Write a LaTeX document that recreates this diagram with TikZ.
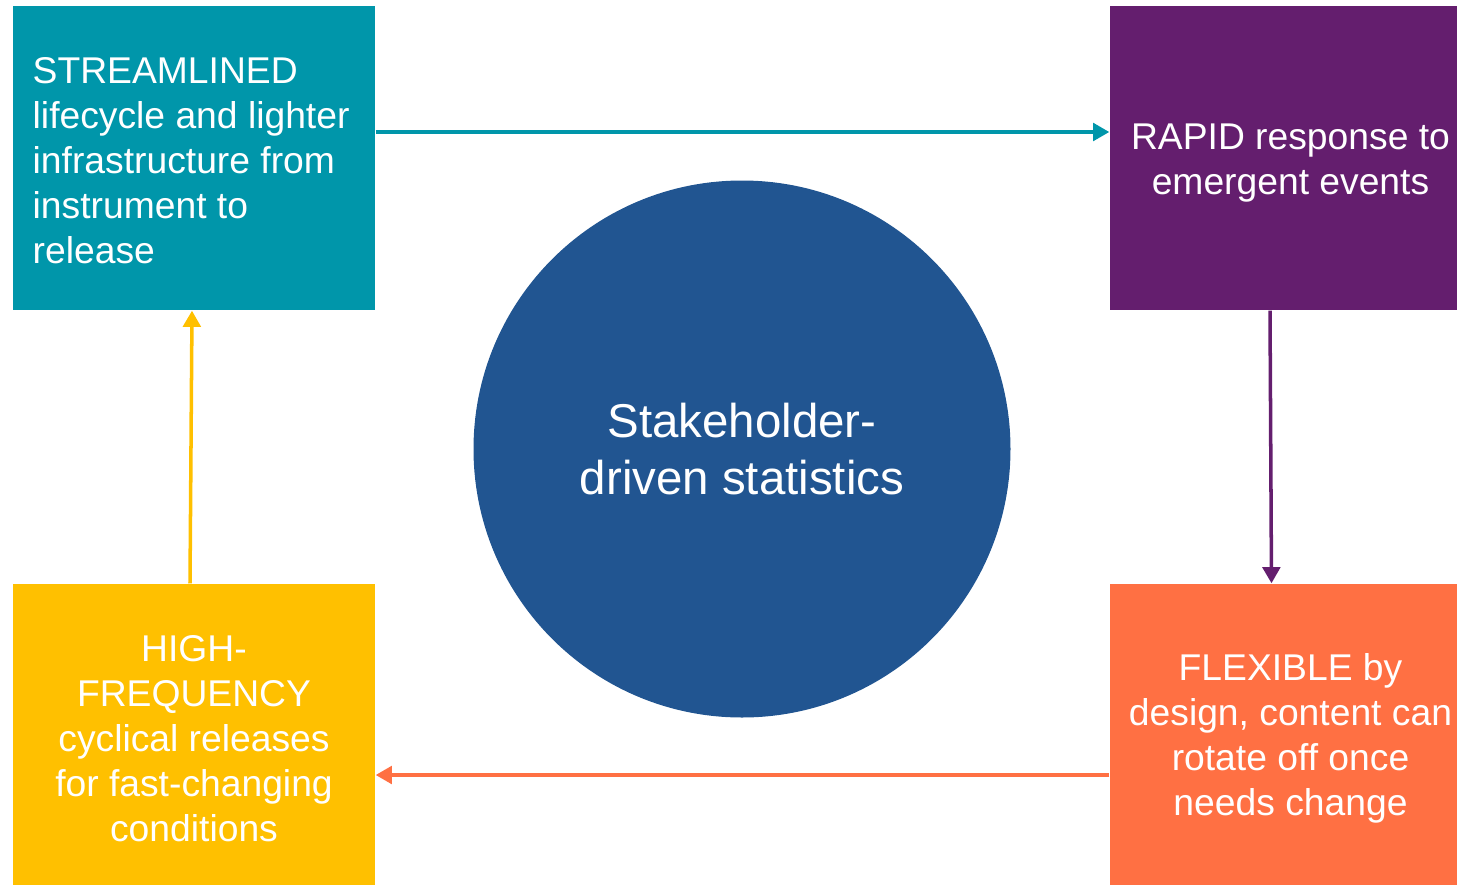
\documentclass[tikz,border=0pt]{standalone}
\usepackage{fontspec}
\setmainfont{Liberation Sans}
\usetikzlibrary{arrows.meta,positioning}
\definecolor{sd_teal}{RGB}{0, 150, 170}
\definecolor{sd_purple}{RGB}{100, 30, 110}
\definecolor{sd_orange}{RGB}{255, 112, 67}
\definecolor{sd_yellow}{RGB}{255, 192, 0}
\definecolor{sd_blue}{RGB}{33, 85, 145}
\tikzstyle{box}=[rectangle,text=white,inner sep=0pt,
  font=\fontsize{10.6}{12.8}\selectfont]
\tikzstyle{flow}=[line width=1pt,-{Triangle[length=4.6pt,width=5pt]}]
\tikzstyle{label}=[text=white,align=center,font=\fontsize{10.6}{12.8}\selectfont]

\begin{document}
\begin{tikzpicture}
        \useasboundingbox (0,0) rectangle (14.57,8.85);
        \node [style=box,fill=sd_teal,minimum width=3.62cm,minimum height=3.04cm] (stream) at (1.94,7.27) {};
        \node [style=box,fill=sd_purple,minimum width=3.47cm,minimum height=3.04cm] (rapid) at (12.835,7.27) {};
        \node [style=box,fill=sd_orange,minimum width=3.47cm,minimum height=3.01cm] (flex) at (12.835,1.505) {};
        \node [style=box,fill=sd_yellow,minimum width=3.62cm,minimum height=3.01cm] (high) at (1.94,1.505) {};
        \node [style=label,align=left,anchor=west] at ([xshift=0.08cm,yshift=-0.03cm]stream.west)
          {STREAMLINED\\lifecycle and lighter\\infrastructure from\\instrument to\\release};
        \node [style=label] at ([xshift=0.07cm,yshift=-0.05cm]rapid.center)
          {RAPID response to\\emergent events};
        \node [style=label] at ([xshift=0.07cm,yshift=-0.04cm]flex.center)
          {FLEXIBLE by\\design, content can\\rotate off once\\needs change};
        \node [style=label] at ([yshift=-0.04cm]high.center)
          {HIGH-\\FREQUENCY\\cyclical releases\\for fast-changing\\conditions};
        \node [circle,fill=sd_blue,text=white,minimum size=5.37cm,align=center,
          font=\fontsize{13.5}{16.2}\selectfont] (core) at (7.42,4.36)
          {Stakeholder-\\driven statistics};
        \draw [style=flow,sd_teal] ([yshift=0.26cm]stream.east) to ([yshift=0.26cm]rapid.west);
        \draw [style=flow,sd_purple] ([xshift=-0.135cm]rapid.south) to ([xshift=-0.12cm]flex.north);
        \draw [style=flow,sd_orange] ([yshift=-0.405cm]flex.west) to ([yshift=-0.405cm]high.east);
        \draw [style=flow,sd_yellow] ([xshift=-0.04cm]high.north) to ([xshift=-0.02cm]stream.south);
    \end{tikzpicture}
\end{document}
